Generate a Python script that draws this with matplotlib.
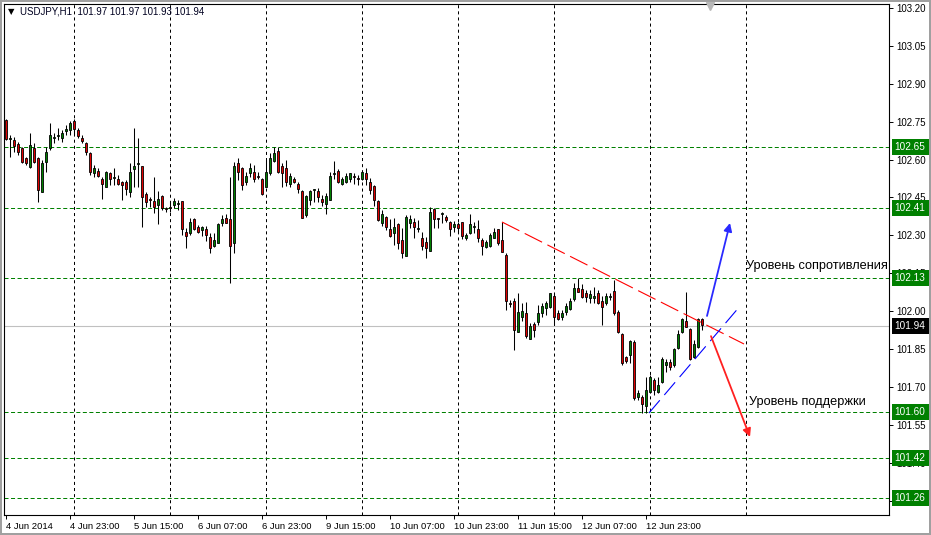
import matplotlib.pyplot as plt
import numpy as np

plt.rcParams['font.family'] = ['Liberation Sans', 'DejaVu Sans']
plt.rcParams['lines.scale_dashes'] = False

# USDJPY H1 bars, first bar = 4 Jun 2014 07:00
o = [102.757, 102.682, 102.678, 102.662, 102.646, 102.606, 102.570, 102.646, 102.606, 102.472,
     102.590, 102.646, 102.686, 102.694, 102.686, 102.713, 102.717, 102.753, 102.717, 102.686,
     102.666, 102.626, 102.547, 102.555, 102.523, 102.491, 102.547, 102.527, 102.523, 102.511,
     102.511, 102.472, 102.563, 102.582, 102.574, 102.464, 102.444, 102.436, 102.420, 102.456,
     102.408, 102.412, 102.420, 102.424, 102.436, 102.313, 102.309, 102.365, 102.333, 102.321,
     102.325, 102.293, 102.258, 102.270, 102.349, 102.369, 102.365, 102.270, 102.586, 102.566,
     102.511, 102.547, 102.551, 102.535, 102.523, 102.491, 102.547, 102.594, 102.634, 102.574,
     102.566, 102.503, 102.523, 102.503, 102.476, 102.381, 102.440, 102.480, 102.476, 102.444,
     102.424, 102.440, 102.543, 102.555, 102.503, 102.511, 102.523, 102.535, 102.527, 102.523,
     102.547, 102.511, 102.495, 102.436, 102.349, 102.373, 102.325, 102.309, 102.345, 102.282,
     102.218, 102.349, 102.353, 102.325, 102.290, 102.274, 102.238, 102.404, 102.369, 102.385,
     102.373, 102.353, 102.333, 102.345, 102.353, 102.290, 102.309, 102.333, 102.325, 102.282,
     102.254, 102.258, 102.290, 102.325, 102.282, 102.222, 102.032, 102.040, 101.917, 101.977,
     101.993, 101.890, 101.949, 101.957, 101.993, 102.012, 102.016, 102.060, 101.993, 101.977,
     101.996, 102.008, 102.048, 102.092, 102.088, 102.072, 102.052, 102.052, 102.072, 102.040,
     102.032, 102.056, 102.080, 101.996, 101.909, 101.818, 101.826, 101.878, 101.660, 101.660,
     101.624, 101.680, 101.727, 101.680, 101.719, 101.787, 101.798, 101.787, 101.854, 101.917,
     101.961, 101.929, 101.818, 101.858, 101.969]
h = [102.761, 102.697, 102.690, 102.670, 102.650, 102.610, 102.705, 102.666, 102.610, 102.598,
     102.650, 102.745, 102.705, 102.725, 102.717, 102.737, 102.753, 102.761, 102.725, 102.697,
     102.670, 102.630, 102.578, 102.566, 102.531, 102.555, 102.551, 102.566, 102.539, 102.515,
     102.519, 102.586, 102.725, 102.686, 102.574, 102.472, 102.452, 102.531, 102.476, 102.460,
     102.412, 102.436, 102.448, 102.440, 102.436, 102.329, 102.369, 102.369, 102.341, 102.337,
     102.337, 102.309, 102.309, 102.349, 102.381, 102.385, 102.531, 102.590, 102.606, 102.570,
     102.551, 102.586, 102.578, 102.551, 102.527, 102.598, 102.626, 102.650, 102.650, 102.586,
     102.598, 102.547, 102.531, 102.511, 102.480, 102.460, 102.480, 102.484, 102.488, 102.460,
     102.468, 102.551, 102.594, 102.563, 102.531, 102.547, 102.547, 102.547, 102.539, 102.559,
     102.566, 102.527, 102.499, 102.440, 102.400, 102.377, 102.365, 102.369, 102.349, 102.329,
     102.381, 102.381, 102.369, 102.361, 102.313, 102.293, 102.412, 102.408, 102.369, 102.392,
     102.381, 102.357, 102.357, 102.353, 102.353, 102.309, 102.385, 102.353, 102.361, 102.290,
     102.282, 102.309, 102.329, 102.325, 102.353, 102.230, 102.044, 102.052, 102.072, 102.032,
     102.036, 101.953, 101.957, 102.024, 102.032, 102.040, 102.072, 102.072, 102.004, 102.004,
     102.032, 102.052, 102.111, 102.131, 102.107, 102.084, 102.084, 102.096, 102.084, 102.060,
     102.072, 102.072, 102.123, 102.004, 101.913, 101.822, 101.886, 101.886, 101.688, 101.668,
     101.739, 101.747, 101.735, 101.739, 101.818, 101.810, 101.810, 101.854, 101.925, 101.973,
     102.076, 101.933, 101.886, 101.973, 101.973]
l = [102.678, 102.610, 102.630, 102.618, 102.586, 102.578, 102.566, 102.586, 102.432, 102.472,
     102.551, 102.638, 102.666, 102.678, 102.670, 102.697, 102.697, 102.697, 102.686, 102.666,
     102.618, 102.539, 102.531, 102.531, 102.444, 102.491, 102.499, 102.499, 102.499, 102.440,
     102.460, 102.452, 102.491, 102.491, 102.333, 102.412, 102.412, 102.389, 102.345, 102.400,
     102.392, 102.392, 102.408, 102.400, 102.301, 102.250, 102.301, 102.321, 102.309, 102.297,
     102.278, 102.230, 102.254, 102.270, 102.337, 102.349, 102.111, 102.230, 102.519, 102.480,
     102.499, 102.531, 102.511, 102.523, 102.460, 102.491, 102.539, 102.590, 102.547, 102.491,
     102.495, 102.491, 102.507, 102.468, 102.369, 102.373, 102.420, 102.432, 102.432, 102.416,
     102.385, 102.440, 102.523, 102.507, 102.499, 102.507, 102.511, 102.503, 102.499, 102.519,
     102.499, 102.464, 102.416, 102.357, 102.337, 102.321, 102.293, 102.262, 102.246, 102.210,
     102.218, 102.329, 102.290, 102.313, 102.242, 102.210, 102.238, 102.329, 102.329, 102.349,
     102.353, 102.297, 102.313, 102.309, 102.286, 102.282, 102.305, 102.309, 102.274, 102.222,
     102.250, 102.254, 102.290, 102.262, 102.234, 102.004, 102.016, 101.846, 101.917, 101.961,
     101.894, 101.890, 101.898, 101.945, 101.977, 101.985, 102.012, 101.945, 101.965, 101.965,
     101.985, 102.004, 102.040, 102.076, 102.052, 102.036, 102.032, 102.032, 102.028, 101.945,
     102.024, 102.044, 101.985, 101.913, 101.787, 101.795, 101.795, 101.648, 101.648, 101.597,
     101.597, 101.676, 101.668, 101.676, 101.715, 101.759, 101.767, 101.779, 101.850, 101.913,
     101.937, 101.806, 101.814, 101.854, 101.925]
c = [102.682, 102.686, 102.654, 102.630, 102.590, 102.586, 102.658, 102.590, 102.480, 102.586,
     102.630, 102.697, 102.690, 102.697, 102.705, 102.721, 102.745, 102.721, 102.694, 102.674,
     102.630, 102.551, 102.566, 102.535, 102.503, 102.551, 102.523, 102.531, 102.503, 102.499,
     102.483, 102.551, 102.574, 102.586, 102.452, 102.432, 102.440, 102.412, 102.444, 102.408,
     102.404, 102.408, 102.436, 102.428, 102.325, 102.297, 102.353, 102.325, 102.313, 102.333,
     102.301, 102.250, 102.282, 102.345, 102.365, 102.349, 102.258, 102.574, 102.551, 102.499,
     102.535, 102.566, 102.523, 102.531, 102.464, 102.551, 102.606, 102.626, 102.551, 102.547,
     102.511, 102.535, 102.511, 102.483, 102.369, 102.456, 102.476, 102.484, 102.452, 102.432,
     102.456, 102.535, 102.547, 102.511, 102.523, 102.535, 102.547, 102.531, 102.523, 102.551,
     102.523, 102.480, 102.440, 102.361, 102.385, 102.333, 102.297, 102.333, 102.270, 102.230,
     102.373, 102.365, 102.333, 102.329, 102.258, 102.250, 102.392, 102.365, 102.365, 102.388,
     102.361, 102.325, 102.345, 102.329, 102.297, 102.301, 102.345, 102.337, 102.290, 102.258,
     102.274, 102.301, 102.313, 102.270, 102.234, 102.040, 102.028, 101.925, 101.996, 102.000,
     101.901, 101.941, 101.925, 101.993, 102.020, 102.032, 102.072, 101.977, 101.969, 101.993,
     102.020, 102.040, 102.092, 102.076, 102.056, 102.056, 102.068, 102.060, 102.032, 102.016,
     102.060, 102.060, 101.993, 101.917, 101.795, 101.802, 101.882, 101.656, 101.676, 101.632,
     101.688, 101.739, 101.688, 101.707, 101.810, 101.798, 101.779, 101.850, 101.909, 101.969,
     101.937, 101.810, 101.870, 101.969, 101.945]

levels = [102.65, 102.41, 102.13, 101.60, 101.42, 101.26]
last_price = 101.94
header = 'USDJPY,H1  101.97 101.97 101.93 101.94'
time_labels = ['4 Jun 2014', '4 Jun 23:00', '5 Jun 15:00', '6 Jun 07:00', '6 Jun 23:00',
               '9 Jun 15:00', '10 Jun 07:00', '10 Jun 23:00', '11 Jun 15:00',
               '12 Jun 07:00', '12 Jun 23:00']
day_starts = [17, 41, 65, 89, 113, 137, 161, 185]
price_ticks = [103.20, 103.05, 102.90, 102.75, 102.60, 102.45, 102.30, 102.15,
               102.00, 101.85, 101.70, 101.55, 101.40, 101.25]
resistance = [(124, 102.353), (184.5, 101.870)]
support = [(160.75, 101.597), (183.5, 102.020)]
up_arrow = [(175.25, 101.981), (181, 102.349)]
down_arrow = [(176.25, 101.901), (186, 101.502)]
res_text = (185, 102.179, 'Уровень сопротивления')
sup_text = (185.75, 101.640, 'Уровень поддержки')

W, H = 931, 535
fig = plt.figure(figsize=(W / 100, H / 100), dpi=100, linewidth=1.5, edgecolor='#a0a0a0')
ax = fig.add_axes([4 / W, 20 / H, 885 / W, 511 / H])
ax.set_xlim(-0.5, 220.75)
ax.set_ylim(101.193, 103.216)

o, h, l, c = map(np.array, (o, h, l, c))
x = np.arange(len(c))

# grid: day separators and levels
for d in day_starts:
    ax.axvline(d, color='black', lw=0.72, ls=(0, (2.2, 2.2)), zorder=1)
for lv in levels:
    ax.axhline(lv, color='#008000', lw=0.72, ls=(0, (2.9, 1.8)), zorder=1)
ax.axhline(last_price, color='#c0c0c0', lw=0.8, zorder=1)

# candles
ax.vlines(x, l, h, color='black', lw=0.75, zorder=2)
lo = np.minimum(o, c)
hi = np.maximum(o, c)
cols = np.where(c >= o, '#008000', '#e00000')
ax.bar(x, hi - lo, bottom=lo, width=0.6, color=cols, edgecolor='black', lw=0.6, zorder=3)

# trend lines
ax.plot(*zip(*resistance), color='#ff0000', lw=0.8, ls=(0, (14, 4.3)), zorder=4)
ax.plot(*zip(*support), color='#0000ff', lw=0.8, ls=(0, (12, 5)), zorder=4)
ax.annotate('', xy=up_arrow[1], xytext=up_arrow[0],
            arrowprops=dict(arrowstyle='-|>', color='#2a2aff', lw=1.3, mutation_scale=12,
                            shrinkA=0, shrinkB=0), zorder=5)
ax.annotate('', xy=down_arrow[1], xytext=down_arrow[0],
            arrowprops=dict(arrowstyle='-|>', color='#ff2020', lw=1.3, mutation_scale=12,
                            shrinkA=0, shrinkB=0), zorder=5)
ax.text(res_text[0], res_text[1], res_text[2], fontsize=9.2, va='center', ha='left', zorder=6)
ax.text(sup_text[0], sup_text[1], sup_text[2], fontsize=9.2, va='center', ha='left', zorder=6)

# axes styling
for s in ax.spines.values():
    s.set_linewidth(0.8)
ax.yaxis.tick_right()
ax.set_yticks(price_ticks)
ax.set_yticklabels(['%.2f' % t for t in price_ticks])
ax.tick_params(axis='y', length=3, width=0.7, pad=2, labelsize=7)
ax.set_xticks(np.arange(0, 161, 16))
ax.set_xticklabels(time_labels, ha='left')
ax.tick_params(axis='x', length=3, width=0.7, pad=2, labelsize=6.8)

# price boxes on the right (drawn over the tick labels they cover)
tr = ax.get_yaxis_transform()
for lv in levels:
    ax.text(1.0065, lv, '%.2f' % lv, transform=tr, fontsize=7.2, color='white', va='center',
            ha='left', clip_on=False, zorder=7,
            bbox=dict(boxstyle='square,pad=0.3', fc='#008000', ec='none'))
ax.text(1.0065, last_price, '%.2f' % last_price, transform=tr, fontsize=7.2, color='white',
        va='center', ha='left', clip_on=False, zorder=7,
        bbox=dict(boxstyle='square,pad=0.3', fc='black', ec='none'))

# header and chart shift marker
fig.text(8 / W, 1 - 12 / H, '▼', fontsize=6, va='center', ha='left', family='DejaVu Sans')
fig.text(20 / W, 1 - 12 / H, header, fontsize=7, va='center', ha='left', color='#000020')
ax.plot([176], [0.996], marker='v', color='#b8b8b8', ms=6, transform=ax.get_xaxis_transform(),
        clip_on=False, zorder=8)

fig.savefig('out.png', dpi=100)
